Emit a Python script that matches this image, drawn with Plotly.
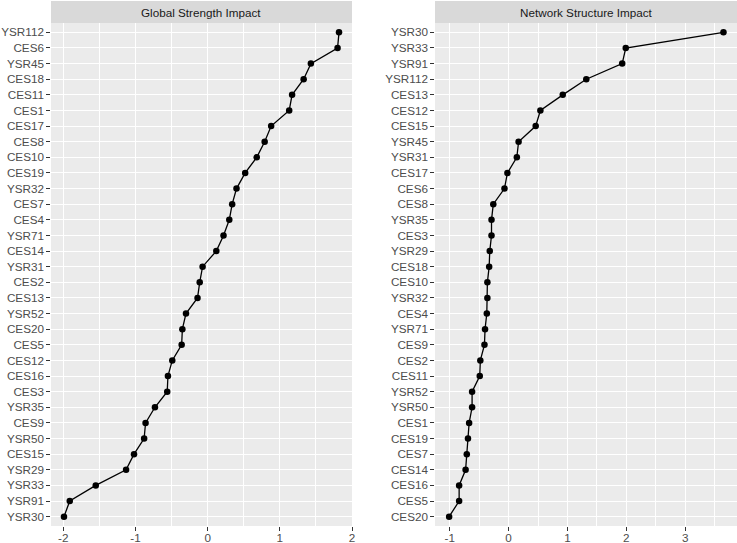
import plotly.graph_objects as go
from plotly.subplots import make_subplots

# Global Strength Impact (top to bottom)
gs_labels = ['YSR112', 'CES6', 'YSR45', 'CES18', 'CES11', 'CES1', 'CES17', 'CES8',
             'CES10', 'CES19', 'YSR32', 'CES7', 'CES4', 'YSR71', 'CES14', 'YSR31',
             'CES2', 'CES13', 'YSR52', 'CES20', 'CES5', 'CES12', 'CES16', 'CES3',
             'YSR35', 'CES9', 'YSR50', 'CES15', 'YSR29', 'YSR33', 'YSR91', 'YSR30']
gs_values = [1.82, 1.80, 1.43, 1.33, 1.17, 1.13, 0.88, 0.79,
             0.68, 0.52, 0.40, 0.34, 0.30, 0.22, 0.12, -0.07,
             -0.11, -0.14, -0.30, -0.35, -0.36, -0.49, -0.55, -0.56,
             -0.73, -0.86, -0.88, -1.02, -1.13, -1.55, -1.91, -1.99]
gs_ticks = [-2, -1, 0, 1, 2]

# Network Structure Impact (top to bottom)
ns_labels = ['YSR30', 'YSR33', 'YSR91', 'YSR112', 'CES13', 'CES12', 'CES15', 'YSR45',
             'YSR31', 'CES17', 'CES6', 'CES8', 'YSR35', 'CES3', 'YSR29', 'CES18',
             'CES10', 'YSR32', 'CES4', 'YSR71', 'CES9', 'CES2', 'CES11', 'YSR52',
             'YSR50', 'CES1', 'CES19', 'CES7', 'CES14', 'CES16', 'CES5', 'CES20']
ns_values = [3.65, 1.99, 1.93, 1.32, 0.92, 0.54, 0.46, 0.17,
             0.14, -0.02, -0.07, -0.26, -0.29, -0.29, -0.32, -0.33,
             -0.36, -0.36, -0.37, -0.40, -0.41, -0.48, -0.49, -0.62,
             -0.62, -0.67, -0.69, -0.71, -0.73, -0.84, -0.84, -1.01]
ns_ticks = [-1, 0, 1, 2, 3]

titles = ['Global Strength Impact', 'Network Structure Impact']

W, H = 737, 543
panel_bg = '#EBEBEB'
strip_bg = '#D9D9D9'
tick_font = dict(family='Liberation Sans, Arial, sans-serif', size=11.7, color='#4D4D4D')

fig = make_subplots(rows=1, cols=2)

for i, (labels, values) in enumerate([(gs_labels, gs_values), (ns_labels, ns_values)]):
    fig.add_trace(go.Scatter(x=values,
                             y=labels,
                             mode='lines+markers',
                             line=dict(color='black', width=1.3),
                             marker=dict(color='black', size=6.5),
                             showlegend=False,
                             cliponaxis=False
                             ),
                  row=1, col=i + 1
                  )

# panel geometry in pixels (left, right, x range)
panels = [(51, 352, [-2.17, 2.0]), (435, 737, [-1.25, 3.88])]
top_px, bottom_px, strip_px = 23, 526, 1

for i, (x0, x1, xr) in enumerate(panels):
    labels = [gs_labels, ns_labels][i]
    ticks = [gs_ticks, ns_ticks][i]
    xd = [x0 / W, x1 / W]
    fig.update_xaxes(domain=xd, range=xr,
                     tickmode='array', tickvals=ticks, ticktext=[str(t) for t in ticks],
                     showgrid=True, gridcolor='white', gridwidth=1.1,
                     minor=dict(dtick=0.5, tick0=0, showgrid=True, gridcolor='white', gridwidth=0.55),
                     zeroline=False, showline=False,
                     ticks='outside', ticklen=3.7, tickcolor='#333333', tickwidth=1.1,
                     ticklabelstandoff=-3,
                     tickfont=tick_font, automargin=False,
                     row=1, col=i + 1)
    fig.update_yaxes(domain=[(H - bottom_px) / H, (H - top_px) / H],
                     type='category', categoryorder='array',
                     categoryarray=labels[::-1], range=[-0.6, len(labels) - 0.4],
                     showgrid=True, gridcolor='white', gridwidth=1.1,
                     zeroline=False, showline=False,
                     ticks='outside', ticklen=3.7, tickcolor='#333333', tickwidth=1.1,
                     tickfont=tick_font, automargin=False,
                     row=1, col=i + 1)
    # facet strip
    fig.add_shape(type='rect', xref='paper', yref='paper',
                  x0=xd[0], x1=xd[1], y0=(H - top_px) / H, y1=(H - strip_px) / H,
                  fillcolor=strip_bg, line=dict(width=0), layer='below')
    fig.add_annotation(text=titles[i], xref='paper', yref='paper',
                       x=(xd[0] + xd[1]) / 2, y=(H - (top_px + strip_px) / 2) / H,
                       xanchor='center', yanchor='middle', showarrow=False,
                       font=dict(family='Liberation Sans, Arial, sans-serif', size=11.7, color='#1A1A1A'))

fig.update_layout(width=W, height=H,
                  margin=dict(l=0, r=0, t=0, b=0),
                  template='none',
                  paper_bgcolor='white',
                  plot_bgcolor=panel_bg,
                  font=tick_font)

# drop the default page margin so the figure sits at the window's corner
fig.write_html("out.html", config={'displayModeBar': False},
               post_script="document.body.style.margin='0';")
